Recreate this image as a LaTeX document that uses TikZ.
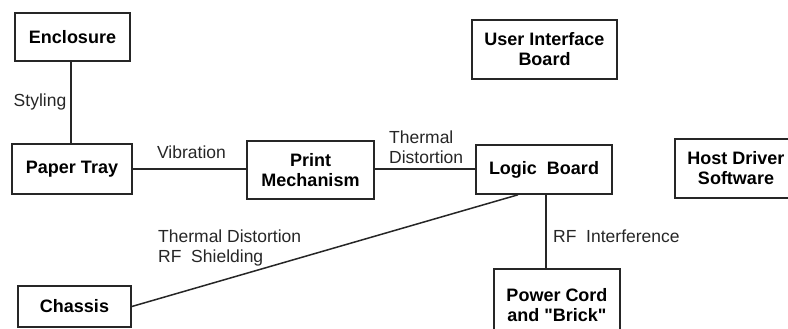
\documentclass[tikz,border=0pt]{standalone}
\usepackage{fontspec}
\newfontfamily\lsans{Liberation Sans}
\usetikzlibrary{positioning,calc}

\begin{document}
\begin{tikzpicture}[x=1pt,y=-1pt,font=\lsans\fontsize{17.5}{20}\selectfont,
  box/.style={draw=black!85,line width=1.6pt,align=center,font=\lsans\fontsize{18}{20}\selectfont\bfseries,inner sep=0pt},
  lbl/.style={align=left,inner sep=0pt,text=black!85},
  link/.style={draw=black!85,line width=1.5pt}]
  \clip (0,0) rectangle (788,329);
  % components
  \node[box,minimum width=115,minimum height=48] (encl) at (72.5,37) {Enclosure};
  \node[box,minimum width=145,minimum height=59] (uib) at (544.5,49.5) {User Interface\\Board};
  \node[box,minimum width=120,minimum height=50] (tray) at (72,169) {Paper Tray};
  \node[box,minimum width=127,minimum height=58] (print) at (310.5,170) {Print\\Mechanism};
  \node[box,minimum width=136,minimum height=49] (logic) at (544,169.5) {Logic\ \ Board};
  \node[box,minimum width=122,minimum height=59] (host) at (736,168.5) {Host Driver\\Software};
  \node[box,minimum width=113,minimum height=41] (chassis) at (74.5,306.5) {Chassis};
  \node[box,minimum width=126,minimum height=72,text depth=0pt] (power) at (557,305) {Power Cord\\and "Brick"};
  % interactions
  \draw[link] (encl.south -| 71,0) -- (tray.north -| 71,0);
  \draw[link] (tray.east) -- (tray.east -| print.west);
  \draw[link] (print.east |- 0,169) -- (logic.west |- 0,169);
  \draw[link] (logic.south -| 546,0) -- (power.north -| 546,0);
  \draw[link] (chassis.east) -- ([xshift=-26]logic.south);
  % labels
  \node[lbl] (styling) at (40,102) {Styling};
  \node[lbl] (vib) at (191.5,152) {Vibration};
  \node[lbl,anchor=west] (thermal) at (389,147) {Thermal\\Distortion};
  \node[lbl,anchor=west] (shield) at (158,248) {Thermal Distortion\\RF\ \ Shielding};
  \node[lbl,anchor=west] (rfi) at (553,236) {RF\ \ Interference};
\end{tikzpicture}
\end{document}
